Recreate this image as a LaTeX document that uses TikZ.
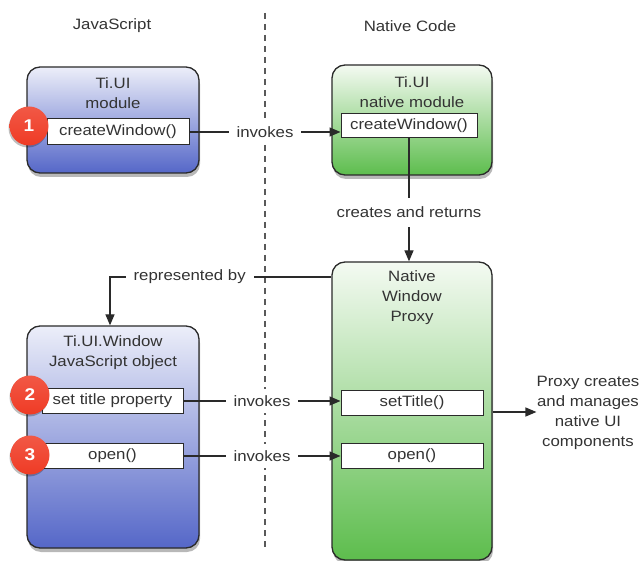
\documentclass[tikz,border=0pt]{standalone}
\usepackage{fontspec}
\setmainfont{Liberation Sans}[FakeStretch=1.12]
\usetikzlibrary{arrows.meta,shadows,positioning}

\definecolor{jstop}{HTML}{ECEEF9}
\definecolor{jsbot}{HTML}{5567C8}
\definecolor{nattop}{HTML}{F4FAF2}
\definecolor{natbot}{HTML}{5DBD4D}
\definecolor{badgered}{HTML}{EF3B25}
\definecolor{ink}{HTML}{2A2A2A}
\definecolor{txt}{HTML}{333333}

\tikzset{
  every node/.style={font=\fontsize{15}{20}\selectfont, text=txt},
  outerbox/.style={draw=ink, line width=1.3pt, rounded corners=13pt,
    drop shadow={shadow xshift=1pt, shadow yshift=-4pt, opacity=0.28, fill=black}},
  jsbox/.style={outerbox, top color=jstop, bottom color=jsbot},
  natbox/.style={outerbox, top color=nattop, bottom color=natbot},
  method/.style={draw=ink, line width=1pt, fill=white, inner sep=0pt},
  title/.style={align=center, inner sep=0pt},
  lbl/.style={fill=white, inner xsep=8pt, inner ysep=6pt},
  conn/.style={draw=ink, line width=1.3pt},
  arr/.style={conn, -{Triangle[length=11pt, width=9pt]}},
  badge/.style={circle, minimum size=39pt, inner sep=0pt,
    top color=badgered!85!white, bottom color=badgered, draw=none,
    font=\fontsize{17}{17}\selectfont\bfseries, text=white,
    drop shadow={shadow xshift=-1pt, shadow yshift=-2pt, opacity=0.25, fill=black}},
}

\begin{document}
\begin{tikzpicture}[x=1pt, y=-1pt]
  \useasboundingbox (0,0) rectangle (640,561);

  % column headers and the language boundary
  \node (hjs) at (112,26) {JavaScript};
  \node (hnat) at (410,26) {Native Code};
  \coordinate (divtop) at (265,13);
  \coordinate (divbot) at (265,551);
  \draw[draw=black!65, line width=1.5pt, dash pattern=on 6pt off 5pt] (divtop) -- (divbot);

  % JavaScript side
  \node[jsbox, minimum width=172pt, minimum height=106pt] (uimod) at (113,120) {};
  \node[title] (uimodt) at (113,93) {Ti.UI\\module};
  \node[method, minimum width=142pt, minimum height=26pt] (cwjs) at (118,132) {createWindow()};

  \node[jsbox, minimum width=172pt, minimum height=222pt] (jswin) at (113,437) {};
  \node[title] (jswint) at (113,353) {Ti.UI.Window\\JavaScript object};
  \node[method, minimum width=141pt, minimum height=25pt] (stp) at (112.5,401) {set title property};
  \node[method, minimum width=141pt, minimum height=25pt] (openjs) at (112.5,456) {open()};

  % native side
  \node[natbox, minimum width=160pt, minimum height=110pt] (natmod) at (412,120) {};
  \node[title] (natmodt) at (412,92) {Ti.UI\\native module};
  \node[method, minimum width=136pt, minimum height=24pt] (cwn) at (409,126) {createWindow()};

  \node[natbox, minimum width=160pt, minimum height=298pt] (proxy) at (412,411) {};
  \node[title] (proxyt) at (412,298) {Native\\Window\\Proxy};
  \node[method, minimum width=142pt, minimum height=25pt] (sett) at (412,402.5) {setTitle()};
  \node[method, minimum width=142pt, minimum height=25pt] (openn) at (412,456) {open()};

  \node[title] (ptext) at (588,412.5) {Proxy creates\\and manages\\native UI\\components};

  % step badges
  \node[badge] (b1) at (29,126) {1};
  \node[badge] (b2) at (30,395) {2};
  \node[badge] (b3) at (30,455) {3};

  % connectors
  \draw[arr] (cwjs.east) -- node[lbl] {invokes} (cwjs.east -| cwn.west);
  \draw[arr] (cwn.south) -- node[lbl, pos=0.6, inner ysep=9pt] {creates and returns} (proxy.north -| cwn.south);
  \coordinate (repr) at (110,277);
  \draw[arr] (proxy.west |- repr) -- node[lbl, pos=0.64, inner ysep=4pt] {represented by} (repr) -- (jswin.north -| repr);
  \draw[arr] (stp.east) -- node[lbl] {invokes} (stp.east -| sett.west);
  \draw[arr] (openjs.east) -- node[lbl] {invokes} (openjs.east -| openn.west);
  \coordinate (pout) at (proxy.east |- 0,412);
  \draw[arr] (pout) -- (pout -| ptext.west);
\end{tikzpicture}
\end{document}
